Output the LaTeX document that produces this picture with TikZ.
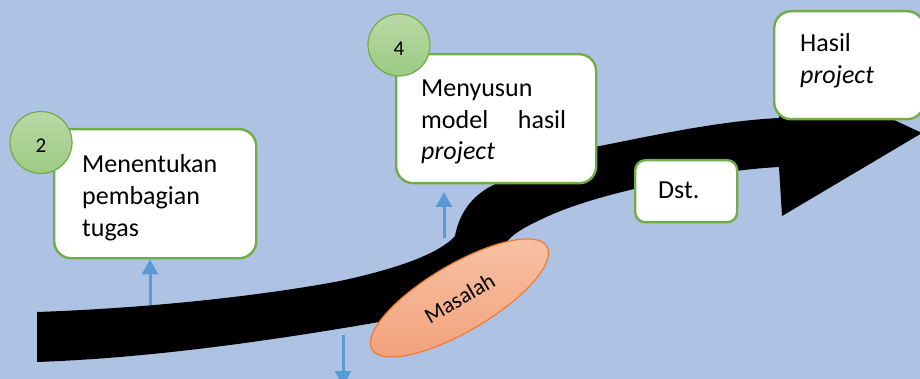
\documentclass[tikz,border=0pt]{standalone}
\usepackage{fontspec}
\setmainfont{Carlito}
\usetikzlibrary{arrows.meta,shapes.geometric}
\definecolor{bg}{HTML}{AEC3E4}
\definecolor{grn}{HTML}{70AD47}
\definecolor{cgtop}{HTML}{B9D9A6}
\definecolor{cgbot}{HTML}{9CCA82}
\definecolor{blu}{HTML}{5B9BD5}
\definecolor{org}{HTML}{ED7D31}
\definecolor{etop}{HTML}{F7C3A6}
\definecolor{ebot}{HTML}{F3A27D}
\tikzset{
 stepbox/.style={draw=grn, line width=2.4pt, fill=white, rounded corners=17pt, inner sep=0pt, anchor=north west},
 numcirc/.style={circle, draw=grn, line width=1.2pt, top color=cgtop, bottom color=cgbot, minimum size=62pt, inner sep=0pt, text height=21pt, font=\fontsize{21}{24}\selectfont},
 txt/.style={anchor=base west, inner sep=0pt, align=left, font=\fontsize{26}{32}\selectfont},
 barrow/.style={draw=blu, line width=3pt, -{Triangle[width=16pt,length=15pt]}},
}
\begin{document}
\begin{tikzpicture}[x=1pt,y=-1pt]
\useasboundingbox (0,0) rectangle (920,379);
\clip (0,0) rectangle (920,379);
\fill[bg] (0,0) rectangle (920,379);
% big black arrow
\fill[black] (37,312) .. controls (150,308) and (260,296) .. (340,281)
  .. controls (400,268) and (440,253) .. (455,236)
  .. controls (459,214) and (472,193) .. (500,182)
  .. controls (530,168) and (560,155) .. (595,147)
  .. controls (660,134) and (720,121) .. (779,118)
  -- (787,70) -- (922,133) -- (782,216) -- (779,167)
  .. controls (720,170) and (600,190) .. (540,220)
  .. controls (525,227) and (512,234) .. (505,244)
  -- (385,321)
  .. controls (270,341) and (150,358) .. (37,362) -- cycle;
% boxes
\node[stepbox, minimum width=202pt, minimum height=129pt] (b2) at (53,128) {};
\node[stepbox, minimum width=200pt, minimum height=129pt] (b4) at (395,53) {};
\node[stepbox, minimum width=150pt, minimum height=108pt] (bh) at (773,10) {};
\node[stepbox, rounded corners=10pt, minimum width=102pt, minimum height=62pt] (bd) at (634,159) {};
% texts
\node[txt, text width=150pt] (t2) at (82,173) {Menentukan\\pembagian\\tugas};
\node[txt, text width=145pt, font=\fontsize{26}{31.5}\selectfont] (t4) at (421,97) {Menyusun\\\makebox[145pt][s]{model\hfill hasil}\\\textit{project}};
\node[txt, text width=110pt] (th) at (800,52) {Hasil\\\textit{project}};
\node[txt] (td) at (658,199) {Dst.};
% numbered circles
\node[numcirc] (c2) at (41,142.5) {2};
\node[numcirc] (c4) at (399,45) {4};
% blue arrows
\coordinate (a1s) at (150,305);
\draw[barrow] (a1s) -- (a1s |- b2.south);
\coordinate (a2s) at (444,238);
\coordinate (a2e) at (444,192);
\draw[barrow] (a2s) -- (a2e);
\coordinate (a3s) at (343,335);
\coordinate (a3e) at (343,386);
\draw[barrow] (a3s) -- (a3e);
% Masalah ellipse
\node[ellipse, draw=org, line width=1.2pt, top color=etop, bottom color=ebot, minimum width=203pt, minimum height=67pt, inner sep=0pt, rotate=30.5, font=\fontsize{22.5}{26}\selectfont] (mas) at (459.5,298) {Masalah};
\end{tikzpicture}
\end{document}
